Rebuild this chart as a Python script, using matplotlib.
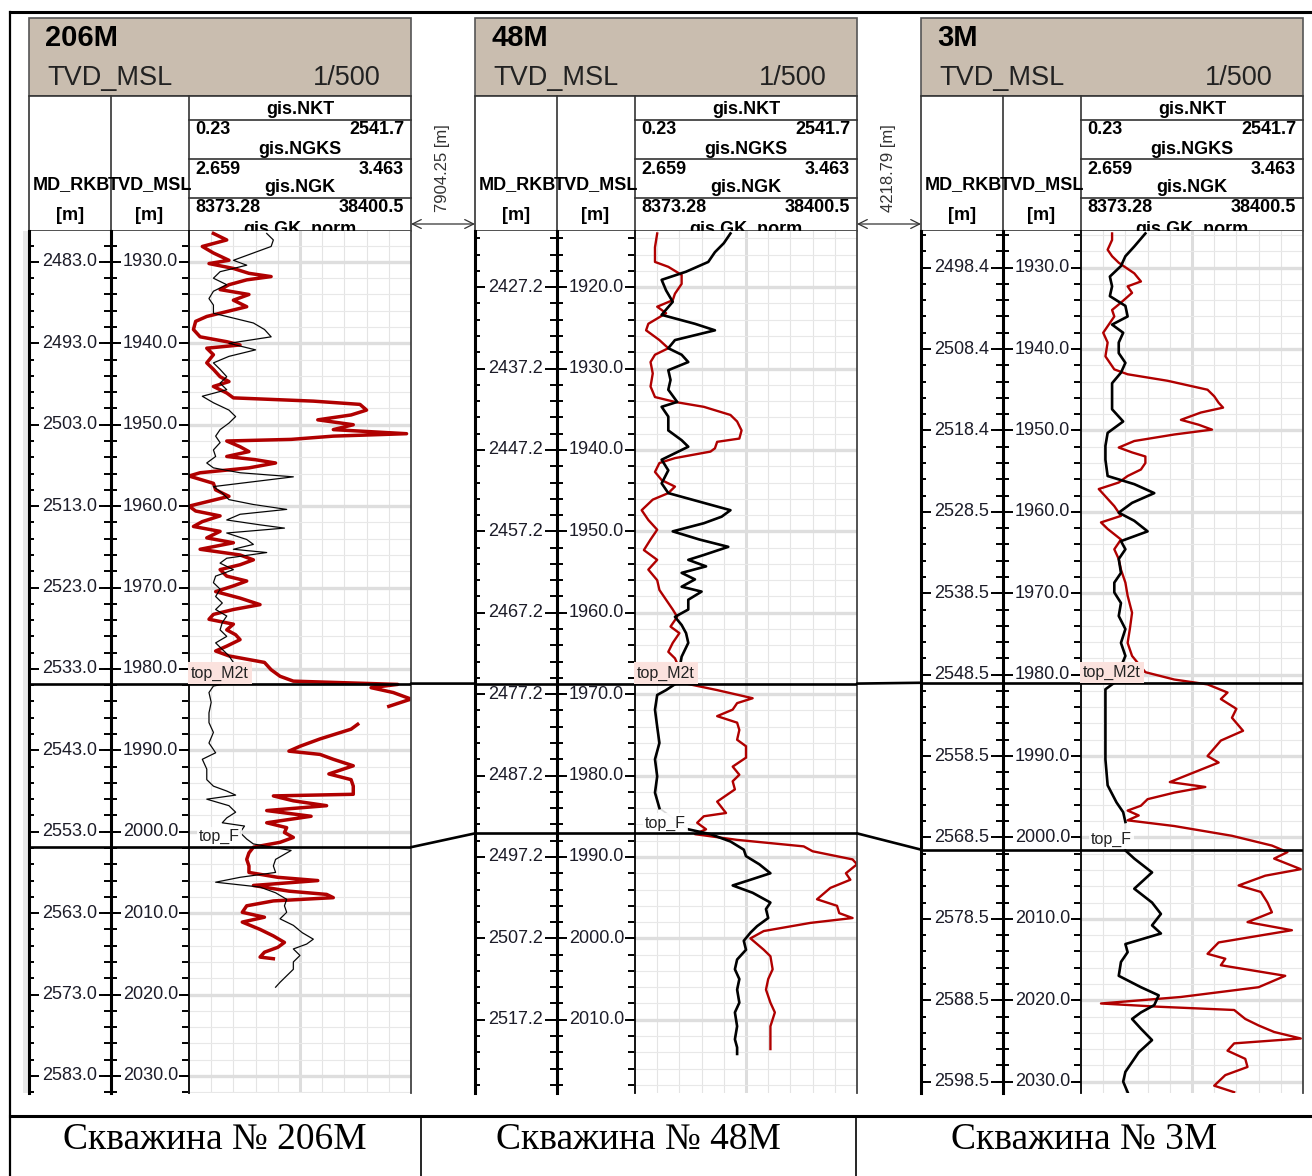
import numpy as np
import matplotlib.pyplot as plt
from matplotlib.patches import Rectangle, ConnectionPatch

plt.rcParams['font.family'] = ['Liberation Sans', 'DejaVu Sans']
nan = np.nan

# ---- data ----
wells = ['206M', '48M', '3M']
gap_labels = ['7904.25 [m]', '4218.79 [m]']
bottom_labels = ['Скважина № 206M', 'Скважина № 48M', 'Скважина № 3M']
curve_names = ['gis.NKT', 'gis.NGKS', 'gis.NGK', 'gis.GK_norm']
curve_min = ['0.23', '2.659', '8373.28']
curve_max = ['2541.7', '3.463', '38400.5']

tvd_ticks = [
    [1930, 1940, 1950, 1960, 1970, 1980, 1990, 2000, 2010, 2020, 2030],
    [1920, 1930, 1940, 1950, 1960, 1970, 1980, 1990, 2000, 2010],
    [1930, 1940, 1950, 1960, 1970, 1980, 1990, 2000, 2010, 2020, 2030],
]
md_labels = [
    ['2483.0', '2493.0', '2503.0', '2513.0', '2523.0', '2533.0', '2543.0',
     '2553.0', '2563.0', '2573.0', '2583.0'],
    ['2427.2', '2437.2', '2447.2', '2457.2', '2467.2', '2477.2', '2487.2',
     '2497.2', '2507.2', '2517.2'],
    ['2498.4', '2508.4', '2518.4', '2528.5', '2538.5', '2548.5', '2558.5',
     '2568.5', '2578.5', '2588.5', '2598.5'],
]
view_top = [1926.2, 1913.1, 1925.5]   # TVD at top of track window
top_m2t = [1981.8, 1968.7, 1981.0]
top_f = [2001.9, 1987.1, 2001.5]

# curves: (TVD, fraction of track width)
w1_red = [(1926.5, .11), (1927.3, .17), (1928.1, .06), (1928.9, .11), (1929.8, .18), (1930.2, .09),
          (1930.8, .20), (1931.4, .27), (1931.8, .37), (1932.2, .26), (1932.8, .18), (1933.4, .14),
          (1934.0, .27), (1934.7, .20), (1935.5, .26), (1936.1, .17), (1936.7, .08), (1937.3, .03),
          (1938.3, .02), (1939.2, .05), (1939.8, .17), (1940.2, .23), (1940.6, .08), (1941.4, .11),
          (1942.4, .08), (1943.2, .11), (1944.1, .14), (1944.7, .18), (1945.3, .11), (1946.1, .17),
          (1946.7, .20), (1947.1, .56), (1947.5, .77), (1948.2, .80), (1948.8, .73), (1949.4, .58),
          (1950.0, .74), (1950.6, .65), (1951.1, .98), (1951.4, .65), (1951.8, .46), (1952.0, .17),
          (1952.7, .23), (1953.3, .27), (1953.9, .17), (1954.3, .30), (1954.7, .39), (1955.3, .27),
          (1955.9, .05), (1956.3, .00), (1957.2, .11), (1958.0, .12), (1958.8, .18), (1959.4, .09),
          (1960.0, .00), (1960.6, .03), (1961.2, .14), (1961.9, .06), (1962.5, .02), (1963.1, .14),
          (1963.9, .08), (1964.5, .20), (1965.3, .05), (1966.0, .23), (1966.6, .29), (1967.2, .23),
          (1967.8, .14), (1968.6, .17), (1969.2, .26), (1969.8, .20), (1970.5, .12), (1971.3, .23),
          (1972.1, .32), (1972.7, .20), (1973.3, .11), (1973.9, .09), (1974.5, .20), (1975.2, .17),
          (1975.8, .21), (1976.4, .23), (1977.2, .17), (1977.8, .12), (1978.4, .18), (1979.2, .34),
          (1980.1, .37), (1980.9, .41), (1981.5, .47), (1981.9, .94), (1982.3, .82), (1982.9, .92),
          (1983.7, 1.0), (1984.6, .90), (nan, nan), (1986.8, .76), (1987.4, .73), (1988.6, .59),
          (1989.5, .50), (1990.1, .45), (1990.5, .59), (1991.1, .65), (1991.9, .74), (1992.9, .63),
          (1993.6, .73), (1994.4, .74), (1995.4, .74), (1995.6, .38), (1996.2, .47), (1996.8, .62),
          (1997.4, .35), (1998.1, .55), (1998.9, .35), (1999.5, .44), (2000.1, .43), (2000.7, .47),
          (2001.3, .41), (2001.9, .29), (2002.6, .27), (2003.4, .26), (2004.2, .27), (2005.0, .27),
          (2005.6, .40), (2006.0, .58), (2006.6, .29), (2007.3, .45), (2007.7, .62), (2008.1, .65),
          (2008.5, .38), (2009.1, .26), (2009.9, .24), (2010.5, .34), (2011.1, .24), (2012.0, .32),
          (2012.8, .38), (2013.6, .43), (2014.2, .40), (2014.8, .34), (2015.4, .32), (2015.6, .38)]
w1_black = [(1926.5, .35), (1927.3, .38), (1928.1, .37), (1928.9, .29), (1929.8, .20), (1930.4, .26),
            (1931.2, .14), (1932.0, .11), (1932.8, .17), (1933.6, .11), (1934.5, .09), (1935.3, .11),
            (1936.3, .11), (1936.9, .20), (1937.5, .29), (1938.3, .34), (1939.2, .37), (1940.0, .18),
            (1940.8, .30), (1941.6, .18), (1942.4, .11), (1943.2, .14), (1944.1, .17), (1944.9, .14),
            (1945.7, .17), (1946.5, .06), (1947.3, .11), (1948.2, .18), (1949.0, .21), (1949.8, .18),
            (1950.6, .14), (1951.4, .12), (1952.2, .14), (1953.1, .11), (1953.9, .12), (1954.7, .08),
            (1955.3, .11), (1955.9, .23), (1956.4, .47), (1957.0, .29), (1957.6, .11), (1958.4, .15),
            (1959.2, .18), (1959.8, .29), (1960.4, .44), (1961.0, .23), (1961.7, .17), (1962.3, .32),
            (1962.7, .43), (1963.3, .17), (1964.1, .26), (1964.7, .29), (1965.3, .20), (1965.7, .35),
            (1966.4, .17), (1967.0, .14), (1967.8, .20), (1968.6, .12), (1969.4, .11), (1970.2, .14),
            (1971.1, .12), (1971.9, .15), (1972.7, .12), (1973.5, .17), (1974.3, .15), (1975.2, .14),
            (1976.0, .17), (1976.8, .12), (1977.6, .15), (1978.4, .18), (1979.2, .20), (1981.9, .15),
            (1982.1, .11), (1982.9, .09), (1984.1, .10), (1985.4, .09), (1986.6, .09), (1987.8, .11),
            (1989.1, .09), (1990.3, .12), (1991.1, .06), (1992.3, .08), (1993.6, .08), (1994.4, .11),
            (1995.0, .17), (1995.5, .21), (1996.0, .08), (1996.8, .18), (1997.6, .21), (1998.3, .17),
            (1998.9, .15), (1999.3, .25), (2000.1, .23), (2000.9, .26), (2001.5, .29), (2002.3, .46),
            (2003.4, .39), (2004.2, .38), (2005.0, .39), (2005.6, .23), (2006.2, .12), (2006.8, .32),
            (2007.5, .39), (2008.3, .44), (2009.1, .43), (2009.9, .44), (2010.7, .41), (2011.5, .47),
            (2012.4, .51), (2013.2, .56), (2013.8, .53), (2014.4, .47), (2015.2, .50), (2016.0, .47),
            (2016.9, .47), (2017.7, .44), (2018.5, .41), (2019.1, .39)]

w2_red = [(1913.4, .10), (1915.1, .09), (1916.9, .09), (1917.5, .15), (1918.5, .21), (1919.6, .21),
          (1920.8, .18), (1921.6, .17), (1922.4, .10), (1923.2, .14), (1924.5, .06), (1925.3, .05),
          (1926.5, .11), (1927.5, .15), (1928.3, .09), (1929.2, .07), (1930.6, .08), (1932.2, .07),
          (1933.5, .09), (1934.1, .18), (1934.7, .31), (1935.7, .43), (1936.5, .46), (1937.6, .48),
          (1938.6, .47), (1939.0, .37), (1939.8, .36), (1940.2, .34), (1941.0, .18), (1941.6, .11),
          (1942.7, .09), (1943.7, .12), (1944.5, .18), (1945.3, .15), (1946.1, .08), (1947.4, .03),
          (1948.6, .06), (1949.8, .10), (1951.0, .07), (1952.3, .04), (1953.5, .10), (1954.7, .06),
          (1956.0, .10), (1957.2, .11), (1958.4, .14), (1959.6, .17), (1960.5, .19), (1961.7, .16),
          (1962.5, .20), (1963.7, .17), (1964.8, .15), (1965.6, .18), (1968.7, .23), (1969.5, .37),
          (1970.5, .53), (1971.1, .46), (1971.9, .44), (1972.7, .37), (1973.5, .46), (1974.4, .47),
          (1975.6, .46), (1976.4, .50), (1977.8, .50), (1978.9, .44), (1979.9, .47), (1980.7, .44),
          (1981.7, .45), (1983.2, .37), (1984.6, .41), (1985.0, .31), (1985.8, .28), (1986.6, .32),
          (1987.2, .27), (1987.9, .46), (1988.7, .76), (1989.3, .80), (1990.3, .98), (1990.9, 1.0),
          (1992.0, .95), (1992.8, .97), (1993.8, .88), (1995.2, .82), (1996.0, .91), (1996.9, .92),
          (1997.5, .98), (1998.1, .79), (1999.1, .58), (2000.0, .52), (2001.4, .58), (2002.2, .61),
          (2003.8, .62), (2005.0, .60), (2006.3, .59), (2007.9, .61), (2009.1, .63), (2010.8, .61),
          (2012.4, .61), (2013.6, .61)]
w2_black = [(1913.4, .43), (1914.6, .40), (1915.7, .36), (1916.9, .33), (1918.1, .23), (1919.1, .12),
            (1920.4, .14), (1921.8, .17), (1923.4, .12), (1924.5, .27), (1925.3, .36), (1926.5, .18),
            (1927.5, .15), (1928.3, .21), (1929.2, .24), (1930.2, .15), (1931.4, .16), (1932.6, .15),
            (1934.1, .19), (1934.7, .12), (1935.9, .15), (1937.6, .15), (1938.8, .21), (1939.6, .24),
            (1941.2, .12), (1942.5, .15), (1944.1, .12), (1945.3, .15), (1946.5, .31), (1947.4, .43),
            (1948.2, .39), (1949.0, .31), (1950.0, .17), (1951.0, .29), (1951.9, .42), (1952.9, .31),
            (1953.5, .24), (1954.3, .32), (1955.1, .21), (1955.9, .27), (1956.8, .21), (1957.4, .30),
            (1958.4, .24), (1959.6, .24), (1960.5, .18), (1961.5, .21), (1962.5, .23), (1963.7, .24),
            (1965.4, .21), (1968.6, .19), (1969.5, .14), (1970.1, .10), (1971.9, .09), (1974.0, .10),
            (1976.0, .11), (1978.0, .09), (1980.1, .10), (1982.1, .09), (1984.0, .11), (nan, nan),
            (1986.6, .24), (1987.2, .34), (1988.1, .43), (1989.1, .49), (1989.9, .50), (1990.9, .56),
            (1992.0, .61), (1992.8, .52), (1993.5, .44), (1994.4, .53), (1995.6, .61), (1996.4, .59),
            (1997.5, .60), (1998.5, .55), (1999.3, .52), (2000.3, .49), (2001.4, .50), (2002.6, .46),
            (2003.8, .45), (2005.0, .47), (2006.3, .46), (2007.9, .47), (2009.1, .45), (2010.8, .46),
            (2012.4, .45), (2013.4, .46), (2014.2, .46)]

w3_red = [(1925.8, .14), (1926.6, .14), (1927.8, .12), (1928.6, .14), (1929.4, .17), (1930.7, .24),
          (1931.7, .27), (1932.3, .21), (1933.1, .23), (1934.3, .18), (1935.2, .14), (1936.0, .15),
          (1937.2, .12), (1938.0, .10), (1939.2, .12), (1940.9, .11), (1941.7, .13), (1942.5, .15),
          (1943.1, .21), (1943.9, .39), (1945.0, .57), (1945.8, .60), (1946.6, .62), (1947.2, .64),
          (1947.8, .54), (1948.7, .45), (1949.3, .53), (1949.9, .59), (1950.5, .42), (1951.3, .24),
          (1952.1, .17), (1952.7, .23), (1953.2, .29), (1954.0, .29), (1954.8, .27), (1955.6, .21),
          (1956.4, .17), (1957.2, .08), (1958.1, .11), (1959.3, .15), (1960.5, .18), (1961.3, .09),
          (1962.1, .12), (1963.4, .18), (1964.6, .15), (1965.8, .17), (1967.1, .18), (1968.7, .20),
          (1970.3, .21), (1972.4, .23), (1974.4, .22), (1976.1, .21), (1977.7, .23), (1979.7, .29),
          (1980.6, .42), (1981.2, .57), (1982.2, .66), (1983.0, .63), (1984.2, .70), (1985.3, .68),
          (1986.9, .73), (1988.1, .63), (1990.0, .57), (1990.8, .62), (1992.0, .51), (1993.2, .40),
          (1993.8, .56), (1994.5, .42), (1995.3, .30), (1996.1, .27), (1996.7, .21), (1997.3, .26),
          (1997.9, .21), (1998.6, .42), (1999.8, .68), (2001.0, .86), (2001.8, .93), (2002.6, .87),
          (2003.9, .99), (2004.7, .83), (2005.9, .71), (2006.7, .81), (2008.0, .84), (2009.2, .86),
          (2010.4, .75), (2011.4, .95), (2012.9, .62), (2014.3, .57), (2014.9, .65), (2015.7, .63),
          (2017.0, .92), (2018.4, .80), (2019.6, .45), (2020.4, .09), (2020.8, .35), (2021.2, .69),
          (2022.3, .74), (2023.1, .80), (2023.9, .87), (2024.7, .99), (2025.3, .69), (2026.2, .66),
          (2027.2, .74), (2028.2, .75), (2029.2, .65), (2030.5, .60), (2031.3, .69)]
w3_black = [(1925.8, .29), (1927.4, .24), (1928.6, .20), (1929.8, .18), (1931.1, .13), (1932.3, .14),
            (1933.5, .13), (1934.7, .20), (1936.0, .21), (1937.0, .14), (1938.0, .19), (1939.2, .17),
            (1940.5, .17), (1941.7, .20), (1942.9, .18), (1944.2, .14), (1945.8, .14), (1947.4, .14),
            (1948.9, .19), (1950.3, .12), (1951.9, .11), (1953.6, .11), (1955.6, .12), (1956.6, .24),
            (1957.7, .33), (1958.9, .23), (1960.1, .17), (1961.1, .24), (1962.4, .30), (1963.6, .18),
            (1964.6, .20), (1965.8, .17), (1967.5, .18), (1968.7, .15), (1969.9, .15), (1971.2, .18),
            (1972.8, .17), (1974.4, .20), (1976.1, .18), (1977.7, .20), (1981.0, .15), (1981.8, .11),
            (1984.2, .11), (1987.1, .11), (1990.4, .11), (1993.6, .12), (1995.7, .16), (1996.9, .19),
            (1998.1, .20), (nan, nan), (2001.6, .20), (2002.6, .24), (2004.3, .32), (2006.3, .24),
            (2008.0, .32), (2009.4, .36), (2010.8, .32), (2011.8, .36), (2013.1, .20), (2014.1, .21),
            (2015.3, .18), (2017.0, .17), (2018.4, .27), (2019.4, .35), (2020.6, .33), (2021.5, .27),
            (2022.3, .23), (2023.5, .27), (2024.9, .32), (2026.4, .26), (2027.6, .23), (2028.8, .20),
            (2030.0, .19), (2031.3, .21)]

red_curves = [w1_red, w2_red, w3_red]
black_curves = [w1_black, w2_black, w3_black]

# ---- layout (pixels) ----
W, H = 1312, 1176
PX_PER_M = 8.14
Y_TOP, Y_BOT = 231, 1093
SPAN = (Y_BOT - Y_TOP) / PX_PER_M
TAN = '#c9bdaf'
RED = '#b00000'
red_lw = [2.5, 1.7, 1.7]
black_lw = [0.8, 1.9, 1.9]

fig = plt.figure(figsize=(W / 100, H / 100), dpi=100)
cv = fig.add_axes([0, 0, 1, 1])
cv.set_xlim(0, W)
cv.set_ylim(H, 0)
cv.axis('off')


def rect(x0, y0, x1, y1):
    return [x0 / W, 1 - y1 / H, (x1 - x0) / W, (y1 - y0) / H]


# outer frame and bottom row
cv.plot([10, W], [12, 12], color='black', lw=2.2)
cv.plot([10, 10], [12, H], color='black', lw=1.6)
cv.plot([10, W], [1116, 1116], color='black', lw=2.2)
for xb in (421, 856):
    cv.plot([xb, xb], [1116, H], color='black', lw=1.2)
for cx, lab in zip([215, 638, 1084], bottom_labels):
    cv.text(cx, 1140, lab, ha='center', va='center', fontsize=27,
            family=['Liberation Serif', 'DejaVu Serif'])

# light strip left of the first well
cv.add_patch(Rectangle((23, Y_TOP), 6, Y_BOT - Y_TOP, fc='#e8e8e8', ec='none'))

track_axes = []
md_axes = []
for i, name in enumerate(wells):
    wl = 29 + 446 * i
    # header
    cv.add_patch(Rectangle((wl, 18), 382, 78, fc=TAN, ec='#555555', lw=1.2))
    cv.add_patch(Rectangle((wl, 96), 382, 135, fc='white', ec='#333333', lw=1.2))
    cv.plot([wl + 82] * 2, [96, 231], color='#333333', lw=1.2)
    cv.plot([wl + 160] * 2, [96, 231], color='#333333', lw=1.2)
    for yy in (120, 159, 198):
        cv.plot([wl + 160, wl + 382], [yy, yy], color='#333333', lw=1.2)
    cv.text(wl + 16, 38, name, fontsize=21, weight='bold', va='center')
    cv.text(wl + 18, 78, 'TVD_MSL', fontsize=19.5, va='center', color='#222222')
    cv.text(wl + 352, 78, '1/500', fontsize=19.5, va='center', ha='right', color='#222222')
    cv.text(wl + 42, 185, 'MD_RKB', fontsize=13, weight='bold', ha='center', va='center')
    cv.text(wl + 121, 185, 'TVD_MSL', fontsize=13, weight='bold', ha='center', va='center')
    cv.text(wl + 41, 216, '[m]', fontsize=13, weight='bold', ha='center', va='center')
    cv.text(wl + 120, 216, '[m]', fontsize=13, weight='bold', ha='center', va='center')
    cx = wl + 271
    for k, yy in enumerate((110, 149, 188, 229)):
        cv.text(cx, yy, curve_names[k], fontsize=13, weight='bold', ha='center', va='center')
    for k, yy in enumerate((130, 169, 207)):
        cv.text(wl + 166, yy, curve_min[k], fontsize=13, weight='bold', ha='left', va='center')
        cv.text(wl + 375, yy, curve_max[k], fontsize=13, weight='bold', ha='right', va='center')

    # depth columns and track
    md_ax = fig.add_axes(rect(wl, Y_TOP, wl + 82, Y_BOT))
    tvd_ax = fig.add_axes(rect(wl + 82, Y_TOP, wl + 160, Y_BOT))
    tr_ax = fig.add_axes(rect(wl + 160, Y_TOP, wl + 382, Y_BOT))
    for ax in (md_ax, tvd_ax, tr_ax):
        ax.set_ylim(view_top[i] + SPAN, view_top[i])
        ax.set_xticks([])
        ax.set_yticks([])
        for s in ax.spines.values():
            s.set_visible(False)
    md_ax.set_xlim(0, 82)
    tvd_ax.set_xlim(0, 78)
    tr_ax.set_xlim(0, 1)
    md_ax.spines['left'].set_visible(True)
    md_ax.spines['left'].set_linewidth(2.2)
    tvd_ax.spines['left'].set_visible(True)
    tvd_ax.spines['left'].set_linewidth(2.2)
    tr_ax.spines['left'].set_visible(True)
    tr_ax.spines['left'].set_linewidth(1.3)
    tr_ax.spines['right'].set_visible(True)
    tr_ax.spines['right'].set_linewidth(1.3)
    tr_ax.spines['right'].set_color('#444444')

    ticks = tvd_ticks[i]
    minor = np.arange(ticks[0] - 10, ticks[-1] + 12, 2)
    md_ax.hlines(minor, 0, 5, color='black', lw=1.4)
    md_ax.hlines(minor, 75, 81, color='black', lw=1.4)
    tvd_ax.hlines(minor, 0, 6, color='black', lw=1.4)
    tvd_ax.hlines(minor, 71, 77, color='black', lw=1.4)
    md_ax.hlines(ticks, 0, 10, color='black', lw=1.4)
    md_ax.hlines(ticks, 70, 82, color='black', lw=1.4)
    tvd_ax.hlines(ticks, 0, 10, color='black', lw=1.4)
    tvd_ax.hlines(ticks, 68, 78, color='black', lw=1.4)
    for t, lab in zip(ticks, md_labels[i]):
        md_ax.text(68, t, lab, ha='right', va='center', fontsize=13, color='#1c1c28')
        tvd_ax.text(67, t, f'{t:.1f}', ha='right', va='center', fontsize=13, color='#1c1c28')

    # grid
    for f in (0.1, 0.2, 0.3, 0.4, 0.6, 0.7, 0.8, 0.9):
        tr_ax.axvline(f, color='#e4e4e4', lw=0.8, zorder=0)
    tr_ax.axvline(0.5, color='#dddddd', lw=2.2, zorder=0)
    tr_ax.hlines(minor, 0, 1, color='#e8e8e8', lw=0.8, zorder=0)
    tr_ax.hlines(ticks, 0, 1, color='#dedede', lw=2.4, zorder=0)

    # curves
    rd, rv = np.array(red_curves[i]).T
    bd, bv = np.array(black_curves[i]).T
    ok = ~np.isnan(bd)
    tr_ax.plot(bv[ok], bd[ok], color='#d8d8d8', lw=1.2, zorder=1)
    tr_ax.plot(rv, rd, color=RED, lw=red_lw[i], zorder=2)
    tr_ax.plot(bv, bd, color='black', lw=black_lw[i], zorder=3)

    # formation tops
    for ax in (md_ax, tvd_ax, tr_ax):
        ax.axhline(top_m2t[i], color='black', lw=1.9, zorder=5)
        ax.axhline(top_f[i], color='black', lw=1.9, zorder=5)
    tr_ax.text(0.01, top_m2t[i] - 0.35, 'top_M2t', fontsize=11.5, ha='left', va='bottom',
               color='#222222', zorder=6,
               bbox=dict(boxstyle='square,pad=0.2', fc='#fbe2de', ec='none'))
    tr_ax.text(0.045, top_f[i] - 0.35, 'top_F', fontsize=11.5, ha='left', va='bottom',
               color='#222222', zorder=6,
               bbox=dict(boxstyle='square,pad=0.12', fc='white', ec='none', alpha=0.85))

    track_axes.append(tr_ax)
    md_axes.append(md_ax)

# gaps between wells
for i in range(2):
    xg = 29 + 446 * i + 382
    cv.text(xg + 32, 168, gap_labels[i], rotation=90, ha='center', va='center',
            fontsize=12, color='#333333')
    cv.annotate('', xy=(xg, 224), xytext=(xg + 64, 224),
                arrowprops=dict(arrowstyle='<->', lw=0.9, color='#333333',
                                shrinkA=0, shrinkB=0, mutation_scale=16))
    for tops in (top_m2t, top_f):
        con = ConnectionPatch(xyA=(1, tops[i]), coordsA='data', axesA=track_axes[i],
                              xyB=(0, tops[i + 1]), coordsB='data', axesB=md_axes[i + 1],
                              color='black', lw=1.9)
        fig.add_artist(con)

fig.savefig('out.png', dpi=100)
